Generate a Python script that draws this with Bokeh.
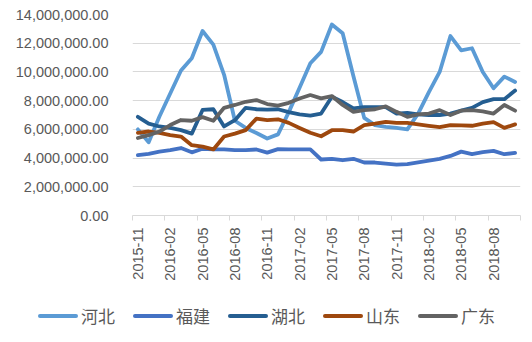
import math
from bokeh.plotting import figure
from bokeh.layouts import column
from bokeh.models import (Range1d, LinearAxis, FixedTicker, NumeralTickFormatter,
                          ColumnDataSource, Div)
from bokeh.embed import file_html
from bokeh.resources import INLINE

months = ["2015-11", "2015-12", "2016-01", "2016-02", "2016-03", "2016-04", "2016-05",
          "2016-06", "2016-07", "2016-08", "2016-09", "2016-10", "2016-11", "2016-12",
          "2017-01", "2017-02", "2017-03", "2017-04", "2017-05", "2017-06", "2017-07",
          "2017-08", "2017-09", "2017-10", "2017-11", "2017-12", "2018-01", "2018-02",
          "2018-03", "2018-04", "2018-05", "2018-06", "2018-07", "2018-08", "2018-09",
          "2018-10"]

hebei = [6.0, 5.1, 6.9, 8.5, 10.1, 10.95, 12.85, 11.9, 9.8, 6.6, 6.1, 5.75, 5.36, 5.65,
         7.2, 8.9, 10.6, 11.4, 13.3, 12.7, 9.7, 6.8, 6.3, 6.17, 6.1, 6.0, 7.1, 8.6,
         10.0, 12.5, 11.5, 11.65, 10.0, 8.86, 9.67, 9.3]
fujian = [4.2, 4.3, 4.45, 4.55, 4.7, 4.4, 4.65, 4.6, 4.6, 4.55, 4.55, 4.6, 4.38, 4.62,
          4.6, 4.6, 4.6, 3.9, 3.95, 3.85, 3.95, 3.69, 3.69, 3.62, 3.55, 3.58, 3.7, 3.82,
          3.95, 4.15, 4.45, 4.27, 4.42, 4.5, 4.27, 4.36]
hubei = [6.87, 6.4, 6.2, 6.1, 5.95, 5.7, 7.35, 7.4, 6.2, 6.64, 7.5, 7.4, 7.38, 7.4,
         7.2, 7.05, 6.95, 7.1, 8.27, 7.9, 7.46, 7.55, 7.55, 7.55, 7.1, 7.15, 7.05, 7.0,
         7.0, 7.1, 7.3, 7.5, 7.9, 8.1, 8.1, 8.7]
shandong = [5.76, 5.85, 5.75, 5.6, 5.5, 4.9, 4.8, 4.6, 5.5, 5.7, 5.95, 6.75, 6.65, 6.7,
            6.45, 6.1, 5.76, 5.52, 5.94, 5.94, 5.85, 6.3, 6.4, 6.52, 6.45, 6.45, 6.35,
            6.25, 6.15, 6.3, 6.28, 6.25, 6.4, 6.5, 6.1, 6.35]
guangdong = [5.4, 5.6, 5.85, 6.3, 6.65, 6.6, 6.85, 6.6, 7.5, 7.7, 7.92, 8.04, 7.76,
             7.65, 7.85, 8.15, 8.39, 8.16, 8.32, 7.7, 7.22, 7.34, 7.4, 7.6, 7.22, 6.87,
             7.05, 7.1, 7.34, 7.0, 7.3, 7.34, 7.25, 7.1, 7.7, 7.3]

series_names = ["河北", "福建", "湖北", "山东", "广东"]
series_values = [hebei, fujian, hubei, shandong, guangdong]
colors = ["#5B9BD5", "#4472C4", "#255E91", "#9E480E", "#636363"]

y_ticks = [0, 2e6, 4e6, 6e6, 8e6, 10e6, 12e6, 14e6]
label_step = 3

n = len(months)
xs = [i + 0.5 for i in range(n)]

p = figure(width=532, height=300, frame_width=388, frame_height=201,
           output_backend="svg", toolbar_location=None,
           x_range=Range1d(0, n), y_range=Range1d(0, 14e6),
           x_axis_location=None, y_axis_location=None,
           min_border_left=132, min_border_right=12, min_border_top=14,
           min_border_bottom=85)
p.outline_line_color = None
p.background_fill_color = "white"
p.border_fill_color = "white"

# y axis
yax = LinearAxis(ticker=FixedTicker(ticks=y_ticks),
                 formatter=NumeralTickFormatter(format="0,0.00"))
yax.axis_line_color = None
yax.major_tick_line_color = None
yax.minor_tick_line_color = None
yax.major_label_standoff = 18
yax.major_label_text_font = "Liberation Sans"
yax.major_label_text_font_size = "14.5px"
yax.major_label_text_color = "#595959"
p.add_layout(yax, "left")

p.xgrid.visible = False
p.ygrid.ticker = FixedTicker(ticks=y_ticks)
p.ygrid.grid_line_color = "#D9D9D9"
p.ygrid.grid_line_width = 1

# x axis: labels at category centres, tick marks (minor) at category boundaries
label_pos = [xs[i] for i in range(0, n, label_step)]
boundaries = list(range(0, n + 1, label_step))
if boundaries[-1] != n:
    boundaries.append(n)
xax = LinearAxis(ticker=FixedTicker(ticks=label_pos, minor_ticks=boundaries),
                 major_label_overrides={xs[i]: months[i] for i in range(0, n, label_step)})
xax.axis_line_color = "#D9D9D9"
xax.major_tick_line_color = None
xax.major_tick_in = 0
xax.major_tick_out = 5
xax.minor_tick_line_color = "#D9D9D9"
xax.minor_tick_in = 0
xax.minor_tick_out = 5
xax.major_label_orientation = math.pi / 2
xax.major_label_standoff = 7
xax.major_label_text_font = "Liberation Sans"
xax.major_label_text_font_size = "14.5px"
xax.major_label_text_color = "#595959"
p.add_layout(xax, "below")

for name, vals, c in zip(series_names, series_values, colors):
    src = ColumnDataSource(dict(x=xs, y=[v * 1e6 for v in vals]))
    p.line("x", "y", source=src, line_color=c, line_width=3.8,
           line_join="round", line_cap="round")

# legend strip below the chart
parts = []
for name, c in zip(series_names, colors):
    parts.append(
        '<span style="display:inline-flex;align-items:center;margin-right:18px;">'
        f'<span style="display:inline-block;width:40px;height:4px;border-radius:2px;'
        f'background:{c};"></span>'
        '<span style="margin-left:3px;font-family:\'Noto Sans CJK SC\';font-size:17px;'
        f'color:#595959;line-height:20px;">{name}</span></span>'
    )
html = ('<div style="display:flex;align-items:center;height:32px;padding-left:38px;'
        'margin:0;white-space:nowrap;">' + "".join(parts) + '</div>')
lg = Div(text=html, width=532, height=42, margin=(0, 0, 0, 0))

layout = column(p, lg, spacing=0)
open("out.html", "w").write(file_html(layout, INLINE))
